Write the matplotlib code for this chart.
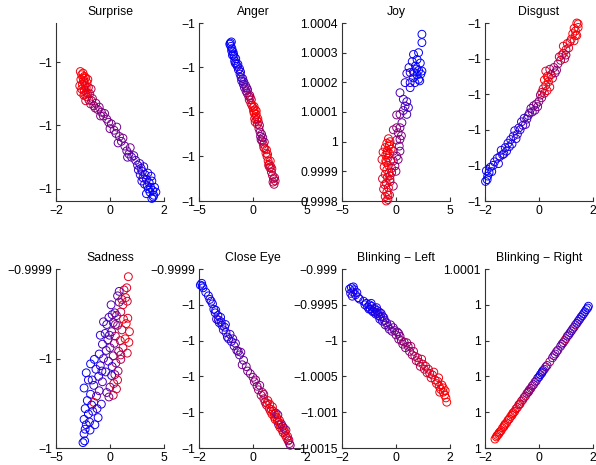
import numpy as np
import matplotlib.pyplot as plt

plt.rcParams['font.family'] = ['Liberation Sans', 'DejaVu Sans']
plt.rcParams['font.size'] = 8.8

# each panel: rows of (x, y offset in 1e-5 units, share of red in the colour)
surprise_pts = np.array([
    (-1.10, 1.70, 0.95), (-1.05, 1.60, 1.0), (-1.00, 1.65, 0.95), (-0.95, 1.55, 1.0),
    (-1.08, 1.45, 1.0), (-0.98, 1.40, 0.95), (-0.90, 1.50, 1.0), (-1.02, 1.30, 1.0),
    (-0.92, 1.25, 0.9), (-0.85, 1.35, 1.0), (-1.05, 1.15, 0.95), (-0.95, 1.10, 1.0),
    (-0.88, 1.05, 0.9), (-0.80, 1.20, 0.85), (-0.97, 0.95, 0.9), (-0.85, 0.90, 0.85),
    (-0.75, 1.00, 0.75), (-0.70, 1.15, 0.7), (-0.90, 0.78, 0.85), (-0.78, 0.80, 0.8),
    (-0.65, 0.85, 0.65), (-0.72, 0.68, 0.7), (-1.12, 1.25, 0.9),
    (-1.00, 1.50, 1.0), (-0.95, 1.35, 0.95), (-0.88, 1.20, 1.0), (-1.08, 1.05, 0.95),
    (-0.82, 1.45, 0.9), (-0.93, 0.98, 1.0), (-0.82, 1.00, 0.9), (-0.68, 0.78, 0.65),
    (-0.60, 0.62, 0.6), (-0.52, 0.70, 0.55), (-0.45, 0.50, 0.55), (-0.40, 0.58, 0.5),
    (-0.32, 0.42, 0.5), (-0.25, 0.30, 0.5), (-0.20, 0.38, 0.45), (-0.12, 0.20, 0.5),
    (-0.05, 0.10, 0.45), (0.05, 0.05, 0.45), (0.15, -0.15, 0.45), (0.22, -0.25, 0.4),
    (0.25, -0.05, 0.45), (0.35, -0.35, 0.45), (0.42, -0.50, 0.4), (0.48, -0.40, 0.5),
    (0.55, -0.65, 0.4), (0.62, -0.80, 0.4), (0.70, -0.90, 0.35), (0.75, -0.70, 0.45),
    (0.80, -1.00, 0.35), (0.88, -0.95, 0.3), (0.95, -1.10, 0.3), (1.02, -1.25, 0.25),
    (-0.55, 0.55, 0.55), (-0.35, 0.30, 0.5), (0.00, -0.10, 0.45), (0.30, -0.55, 0.4),
    (0.65, -1.00, 0.35),
    (1.10, -1.20, 0.2), (1.15, -1.35, 0.15), (1.20, -1.45, 0.1), (1.25, -1.30, 0.15),
    (1.30, -1.55, 0.05), (1.22, -1.65, 0.1), (1.35, -1.70, 0.05), (1.40, -1.50, 0.1),
    (1.45, -1.80, 0.0), (1.38, -1.90, 0.05), (1.50, -1.95, 0.0), (1.55, -1.75, 0.05),
    (1.58, -2.05, 0.0), (1.48, -2.10, 0.0), (1.62, -2.20, 0.0), (1.65, -1.95, 0.0),
    (1.55, -2.30, 0.0), (1.70, -2.10, 0.05), (1.28, -1.85, 0.15), (1.12, -1.55, 0.2),
    (1.05, -1.40, 0.2), (1.18, -1.75, 0.1), (1.42, -2.00, 0.0), (1.52, -1.60, 0.05),
    (1.60, -2.25, 0.0), (1.35, -2.15, 0.0),
])

anger_pts = np.array([
    (-2.10, 3.10, 0.0), (-2.00, 3.15, 0.0), (-2.05, 2.95, 0.05), (-1.95, 2.85, 0.0),
    (-1.85, 2.70, 0.05), (-1.90, 2.55, 0.0), (-1.75, 2.50, 0.05), (-1.70, 2.30, 0.0),
    (-1.60, 2.40, 0.05), (-1.55, 2.15, 0.1), (-1.45, 2.05, 0.05), (-1.35, 1.90, 0.1),
    (-1.25, 1.95, 0.1), (-1.20, 1.70, 0.15), (-1.10, 1.55, 0.15), (-1.05, 1.40, 0.2),
    (-0.95, 1.50, 0.25), (-0.90, 1.25, 0.25), (-0.80, 1.10, 0.3), (-0.70, 1.20, 0.4),
    (-2.15, 3.05, 0.0), (-1.98, 2.75, 0.05), (-1.80, 2.60, 0.0), (-1.65, 2.20, 0.1),
    (-1.40, 2.15, 0.0), (-1.15, 1.80, 0.1), (-0.85, 1.35, 0.3),
    (-0.65, 0.95, 0.45), (-0.55, 0.85, 0.5), (-0.50, 1.00, 0.55), (-0.40, 0.70, 0.6),
    (-0.35, 0.55, 0.7), (-0.25, 0.65, 0.75), (-0.20, 0.40, 0.8), (-0.10, 0.30, 0.85),
    (0.00, 0.20, 0.9), (0.05, 0.05, 0.95), (0.10, -0.05, 1.0), (0.20, 0.10, 0.95),
    (0.25, -0.20, 1.0), (0.30, -0.10, 0.95), (0.35, -0.35, 1.0), (0.15, -0.30, 0.9),
    (-0.60, 1.10, 0.4), (-0.30, 0.75, 0.6), (-0.15, 0.55, 0.8), (0.10, 0.25, 1.0),
    (0.30, 0.05, 1.0), (0.45, -0.30, 0.95), (0.20, -0.45, 0.8),
    (0.40, -0.55, 0.85), (0.50, -0.45, 0.9), (0.55, -0.75, 0.7), (0.65, -0.90, 0.55),
    (0.70, -1.10, 0.5), (0.80, -1.00, 0.6), (0.85, -1.30, 0.6), (0.95, -1.45, 0.75),
    (1.05, -1.35, 0.7), (1.10, -1.65, 0.85), (1.20, -1.85, 0.9), (1.30, -2.00, 0.95),
    (1.35, -1.90, 0.9), (1.40, -2.20, 0.9), (1.50, -2.35, 0.85), (1.55, -2.50, 0.8),
    (1.65, -2.45, 0.85), (1.70, -2.70, 0.75), (1.80, -2.85, 0.7), (1.90, -3.00, 0.75),
    (1.95, -3.25, 0.7), (2.05, -3.10, 0.8), (1.85, -3.15, 0.65),
    (0.60, -0.60, 0.6), (0.75, -1.25, 0.55), (0.90, -1.15, 0.5), (1.00, -1.60, 0.8),
    (1.25, -1.70, 0.95), (1.45, -2.40, 0.8), (1.60, -2.20, 1.0), (1.75, -2.55, 0.8),
    (2.00, -2.95, 0.7),
])

joy_pts = np.array([
    (2.40, 36.2, 0.0), (2.40, 33.4, 0.0), (2.09, 30.0, 0.0), (1.62, 29.4, 0.05),
    (1.95, 27.7, 0.0), (1.50, 27.0, 0.05), (1.80, 25.5, 0.0), (2.25, 26.5, 0.0),
    (2.09, 24.0, 0.05), (1.62, 23.5, 0.05), (1.31, 23.3, 0.1), (1.95, 22.5, 0.0),
    (2.30, 22.8, 0.0), (2.40, 23.8, 0.0), (1.60, 21.5, 0.0), (2.09, 21.0, 0.0),
    (1.00, 23.0, 0.2), (0.84, 19.9, 0.15), (1.31, 19.9, 0.1), (1.75, 19.9, 0.05),
    (1.31, 18.2, 0.1), (2.20, 20.5, 0.0), (1.20, 25.0, 0.1), (1.90, 24.5, 0.0),
    (0.37, 16.5, 0.3), (0.68, 14.3, 0.25), (1.00, 13.5, 0.2), (0.84, 12.0, 0.3),
    (1.15, 11.5, 0.2), (0.68, 10.5, 0.35), (1.00, 9.2, 0.25), (0.37, 9.2, 0.45),
    (0.06, 9.0, 0.5), (0.55, 6.4, 0.4), (0.37, 4.7, 0.45), (0.06, 4.7, 0.55),
    (-0.25, 4.0, 0.6), (0.20, 3.0, 0.5), (0.37, 0.8, 0.45), (0.06, 0.5, 0.55),
    (0.30, -1.5, 0.5), (0.37, -3.2, 0.45), (-0.25, -3.2, 0.6), (0.06, -4.9, 0.55),
    (-0.25, -6.5, 0.6), (-0.10, -8.2, 0.55), (-0.40, -10.4, 0.65), (-0.56, -12.7, 0.7),
    (-0.25, -15.0, 0.6), (0.50, 2.0, 0.5), (0.20, -6.0, 0.5), (0.00, -10.0, 0.6),
    (-0.70, 1.0, 0.9), (-0.55, 0.0, 0.95), (-0.85, -0.5, 1.0), (-0.65, -1.5, 1.0),
    (-1.00, -2.0, 0.95), (-0.45, -2.5, 0.85), (-0.80, -3.0, 1.0), (-1.20, -3.5, 0.9),
    (-0.60, -4.0, 1.0), (-0.95, -4.5, 1.0), (-0.75, -5.5, 0.95), (-1.30, -6.0, 0.9),
    (-0.50, -6.5, 0.85), (-0.90, -7.0, 1.0), (-0.70, -8.0, 0.95), (-1.10, -8.5, 0.9),
    (-0.40, -9.0, 0.8), (-0.85, -9.5, 1.0), (-0.65, -10.5, 0.9), (-1.00, -11.0, 0.95),
    (-0.80, -12.0, 1.0), (-1.25, -12.5, 0.85), (-0.55, -13.5, 0.85), (-0.90, -14.0, 0.95),
    (-0.70, -15.5, 0.9), (-1.15, -16.0, 0.85), (-0.85, -17.0, 0.95), (-0.60, -18.0, 0.8),
    (-1.00, -18.5, 0.9), (-0.75, -19.5, 0.85), (-0.90, -20.0, 0.9),
    (-0.60, -1.0, 1.0), (-0.95, -6.5, 1.0), (-0.55, -11.5, 0.9), (-1.05, -14.5, 0.9),
    (-0.75, -18.0, 1.0), (-0.80, -3.8, 0.95),
])

disgust_pts = np.array([
    (-1.98, -3.9, 0.0), (-1.90, -3.6, 0.0), (-1.95, -3.3, 0.05), (-1.85, -3.4, 0.0),
    (-1.80, -3.1, 0.05), (-1.75, -3.35, 0.0), (-1.65, -2.8, 0.1), (-1.55, -2.6, 0.05),
    (-1.45, -2.5, 0.1), (-1.40, -2.15, 0.1), (-1.30, -2.35, 0.05), (-1.25, -2.0, 0.05),
    (-1.15, -1.75, 0.1), (-1.10, -1.95, 0.05), (-1.05, -1.55, 0.1), (-0.95, -1.35, 0.15),
    (-0.90, -1.05, 0.1), (-0.80, -1.25, 0.2), (-0.75, -0.90, 0.15), (-0.65, -0.55, 0.2),
    (-0.60, -0.75, 0.25), (-0.55, -0.35, 0.2), (-0.45, -0.40, 0.3),
    (-1.92, -3.8, 0.0), (-1.70, -3.0, 0.05), (-1.50, -2.9, 0.1), (-1.35, -2.4, 0.15),
    (-1.20, -2.2, 0.1), (-1.00, -1.8, 0.05), (-0.85, -1.5, 0.15), (-0.70, -1.0, 0.1),
    (-0.50, -0.7, 0.3), (-0.40, -0.2, 0.25),
    (-0.35, -0.05, 0.35), (-0.30, 0.20, 0.4), (-0.20, 0.35, 0.45), (-0.10, 0.45, 0.5),
    (-0.15, 0.10, 0.4), (0.00, 0.60, 0.5), (0.05, 0.95, 0.55), (0.10, 0.80, 0.6),
    (0.20, 1.05, 0.7), (-0.25, 0.00, 0.4), (-0.05, 0.30, 0.5),
    (0.15, 1.30, 0.85), (0.25, 1.50, 0.9), (0.30, 1.20, 0.95), (0.20, 1.80, 1.0),
    (0.35, 1.70, 1.0), (0.40, 1.40, 0.9), (0.30, 2.00, 0.95), (0.45, 2.10, 0.85),
    (0.25, 2.30, 0.9), (0.50, 1.90, 0.8), (0.10, 1.10, 0.8), (0.35, 1.95, 1.0),
    (0.55, 2.50, 0.6), (0.65, 2.35, 0.55), (0.70, 2.70, 0.6), (0.80, 2.90, 0.65),
    (0.75, 3.10, 0.7), (0.40, 2.40, 0.7), (0.60, 2.20, 0.5),
    (0.90, 3.30, 0.85), (0.95, 3.00, 0.8), (1.00, 3.50, 0.9), (0.90, 3.70, 0.95),
    (1.05, 3.85, 0.9), (1.10, 3.60, 0.85), (1.20, 4.10, 0.9), (1.30, 4.00, 0.95),
    (1.25, 4.40, 1.0), (1.35, 4.55, 0.9), (1.40, 4.30, 0.95), (1.45, 4.75, 1.0),
    (1.40, 5.00, 0.9), (0.85, 3.20, 0.9), (1.00, 3.20, 0.6), (1.15, 3.95, 0.9),
    (1.35, 4.30, 1.0), (1.30, 4.70, 0.95), (1.45, 4.95, 1.0),
])

sadness_pts = np.array([
    (1.70, 9.57, 0.9), (1.55, 8.95, 0.85), (1.30, 8.83, 0.8), (0.85, 8.75, 0.3),
    (0.70, 8.50, 0.35), (1.45, 8.40, 0.9), (1.10, 8.30, 0.7), (0.85, 8.15, 0.4),
    (1.60, 8.20, 0.8), (0.10, 8.00, 0.3), (1.20, 8.00, 0.9),
    (0.45, 7.55, 0.3), (0.20, 7.45, 0.2), (-0.10, 7.30, 0.35), (0.60, 7.40, 0.5),
    (1.00, 7.60, 0.8), (1.25, 7.20, 0.9), (1.65, 7.25, 0.85), (1.50, 6.95, 0.95),
    (0.30, 7.00, 0.4), (-0.30, 6.90, 0.2), (-0.60, 7.05, 0.3), (0.70, 6.85, 0.6),
    (1.10, 6.60, 0.75), (1.80, 6.50, 0.9), (0.15, 6.50, 0.45), (-0.45, 6.40, 0.25),
    (-0.90, 6.30, 0.15), (0.50, 6.25, 0.7), (1.40, 6.10, 0.95), (-0.20, 6.05, 0.35),
    (0.95, 6.00, 0.85), (1.75, 5.90, 0.9), (0.40, 5.85, 0.5), (-0.70, 5.80, 0.2),
    (0.50, 6.90, 0.5), (-0.05, 6.30, 0.3),
    (1.20, 5.60, 0.8), (0.00, 5.60, 0.4), (-0.35, 5.45, 0.3), (0.80, 5.40, 0.6),
    (1.60, 5.30, 0.85), (-1.00, 5.25, 0.15), (0.30, 5.15, 0.45), (-0.60, 5.00, 0.25),
    (1.00, 4.95, 0.7), (-1.45, 4.95, 0.05), (-0.15, 4.85, 0.35), (0.55, 4.75, 0.6),
    (-1.80, 4.70, 0.0), (-0.90, 4.60, 0.2), (0.20, 4.55, 0.1), (-1.30, 4.40, 0.1),
    (0.75, 4.30, 0.65), (-0.40, 4.25, 0.3), (-2.20, 4.20, 0.0), (0.15, 4.05, 0.1),
    (-1.05, 4.00, 0.15), (1.00, 5.20, 0.75), (-0.75, 4.30, 0.15), (0.45, 4.10, 0.5),
    (-2.00, 3.80, 0.1), (0.70, 3.80, 0.85), (-0.70, 3.70, 0.3), (0.35, 3.60, 0.75),
    (-1.50, 3.50, 0.2), (0.00, 3.40, 0.4), (-2.40, 3.35, 0.0), (0.60, 3.30, 0.8),
    (-1.00, 3.20, 0.3), (-0.30, 3.10, 0.35), (-1.80, 3.00, 0.05), (-1.25, 2.90, 0.4),
    (-0.10, 2.85, 0.45), (-2.10, 2.65, 0.0), (-1.50, 2.55, 0.9), (-0.80, 2.45, 0.15),
    (-1.65, 3.80, 0.1), (0.30, 2.95, 0.8), (-1.70, 2.40, 0.05),
    (-2.30, 2.20, 0.0), (-1.20, 2.20, 0.1), (-1.60, 2.05, 0.2), (-2.00, 1.90, 0.0),
    (-1.10, 1.70, 0.05), (-2.40, 1.60, 0.0), (-1.90, 1.45, 0.1), (-1.40, 1.30, 0.05),
    (-2.30, 1.05, 0.0), (-1.85, 1.00, 0.05), (-2.40, 0.80, 0.1), (-2.35, 0.40, 0.0),
    (-2.50, 0.30, 0.0), (-2.20, 1.30, 0.05),
])

close_eye_pts = np.array([
    (-1.95, 9.10, 0.0), (-1.90, 9.20, 0.05), (-1.85, 8.95, 0.0), (-1.75, 8.70, 0.05),
    (-1.65, 8.50, 0.0), (-1.60, 8.30, 0.1), (-1.50, 8.05, 0.05), (-1.45, 7.75, 0.0),
    (-1.40, 7.55, 0.05), (-1.30, 7.40, 0.1), (-1.35, 7.20, 0.15), (-1.25, 7.00, 0.05),
    (-1.20, 7.30, 0.0), (-1.15, 6.85, 0.1), (-1.10, 6.60, 0.3), (-1.05, 6.75, 0.05),
    (-1.00, 6.45, 0.15), (-0.95, 6.20, 0.1), (-0.85, 6.35, 0.2), (-0.80, 5.95, 0.1),
    (-0.75, 6.10, 0.3), (-0.70, 5.70, 0.25), (-0.55, 5.40, 0.3), (-0.50, 5.20, 0.35),
    (-1.88, 9.05, 0.0), (-1.55, 8.20, 0.1), (-1.38, 7.70, 0.05), (-1.28, 7.15, 0.2),
    (-1.18, 7.05, 0.1), (-1.02, 6.90, 0.1), (-0.90, 6.10, 0.2), (-0.65, 5.85, 0.3),
    (-0.60, 5.45, 0.4), (-0.40, 4.65, 0.45),
    (-0.45, 5.35, 0.4), (-0.35, 4.90, 0.35), (-0.25, 4.55, 0.45), (-0.20, 4.30, 0.5),
    (-0.10, 4.15, 0.45), (0.00, 3.95, 0.5), (0.05, 3.70, 0.55), (0.15, 3.45, 0.5),
    (0.20, 3.25, 0.6), (0.25, 3.50, 0.5), (0.30, 2.95, 0.65), (0.35, 3.10, 0.55),
    (0.10, 3.80, 0.55), (0.40, 3.00, 0.7),
    (0.40, 2.75, 0.7), (0.45, 2.55, 0.8), (0.50, 2.40, 0.75), (0.55, 2.65, 0.85),
    (0.60, 2.20, 0.9), (0.65, 2.05, 0.85), (0.70, 1.90, 0.95), (0.72, 2.30, 0.9),
    (0.78, 1.75, 1.0), (0.82, 1.60, 0.9), (0.85, 1.95, 0.4), (0.90, 1.50, 0.95),
    (0.95, 1.30, 0.3), (0.98, 1.55, 0.9), (1.00, 1.15, 1.0), (1.05, 1.35, 0.5),
    (1.08, 1.00, 0.95), (1.12, 0.85, 0.9), (1.15, 1.10, 0.6), (1.20, 0.70, 0.85),
    (1.25, 0.55, 0.9), (1.30, 0.40, 0.8), (1.35, 0.25, 0.6), (1.38, 0.15, 0.5),
    (0.52, 2.50, 0.9), (0.62, 2.45, 0.95), (0.68, 2.15, 1.0), (0.75, 2.05, 0.9),
    (0.80, 1.90, 1.0), (0.88, 1.70, 0.95), (0.92, 1.85, 0.45), (0.95, 1.45, 1.0),
    (1.02, 1.30, 0.95), (1.10, 1.20, 0.5), (1.18, 0.90, 0.95), (1.22, 1.00, 0.6),
    (1.28, 0.65, 0.9), (1.33, 0.45, 0.7),
])

blink_left_pts = np.array([
    (-1.72, 72.0, 0.05), (-1.65, 74.0, 0.0), (-1.60, 68.0, 0.1), (-1.55, 71.0, 0.0),
    (-1.50, 64.0, 0.05), (-1.45, 67.0, 0.1), (-1.62, 62.0, 0.15), (-1.40, 60.0, 0.05),
    (-1.68, 66.0, 0.1), (-1.58, 75.0, 0.05), (-1.35, 58.0, 0.1),
    (-1.20, 55.0, 0.1), (-1.10, 52.0, 0.0), (-1.05, 47.0, 0.1), (-0.98, 50.0, 0.05),
    (-0.95, 44.0, 0.15), (-0.90, 48.0, 0.0), (-0.85, 40.0, 0.1), (-0.80, 45.0, 0.05),
    (-0.75, 37.0, 0.2), (-0.70, 42.0, 0.0), (-0.65, 35.0, 0.1), (-0.60, 30.0, 0.15),
    (-0.55, 38.0, 0.05), (-0.50, 27.0, 0.2), (-0.45, 32.0, 0.25), (-0.40, 22.0, 0.3),
    (-1.15, 50.0, 0.05), (-1.00, 44.0, 0.0), (-0.92, 52.0, 0.1), (-0.88, 42.0, 0.05),
    (-0.78, 40.0, 0.1), (-0.72, 46.0, 0.15), (-0.68, 38.0, 0.05), (-0.62, 40.0, 0.2),
    (-0.58, 33.0, 0.1), (-0.50, 34.0, 0.15), (-0.42, 28.0, 0.2), (-0.35, 25.0, 0.3),
    (-0.30, 20.0, 0.35), (-0.25, 16.0, 0.3), (-0.15, 13.0, 0.4), (-0.10, 18.0, 0.35),
    (0.00, 8.0, 0.45), (0.05, 12.0, 0.4), (0.10, 2.0, 0.5), (0.20, 0.0, 0.55),
    (0.25, -5.0, 0.5), (0.35, -10.0, 0.55), (0.40, -3.0, 0.6), (0.50, -15.0, 0.5),
    (0.55, -8.0, 0.65), (0.60, -20.0, 0.6), (0.70, -22.0, 0.7), (0.75, -28.0, 0.65),
    (-0.20, 22.0, 0.4), (-0.05, 14.0, 0.45), (0.10, 10.0, 0.5), (0.15, 6.0, 0.45),
    (0.30, -2.0, 0.6), (0.45, -8.0, 0.55), (0.65, -15.0, 0.65),
    (0.85, -30.0, 0.75), (0.90, -36.0, 0.7), (1.00, -33.0, 0.8), (1.05, -40.0, 0.75),
    (1.15, -45.0, 0.85), (1.25, -46.0, 0.8), (1.30, -52.0, 0.9), (1.35, -48.0, 0.85),
    (1.45, -55.0, 0.9), (1.50, -60.0, 0.95), (1.55, -57.0, 0.9), (1.60, -64.0, 1.0),
    (1.65, -68.0, 0.95), (1.70, -62.0, 0.9), (1.75, -72.0, 1.0), (1.80, -76.0, 0.95),
    (1.85, -80.0, 1.0), (1.88, -86.0, 1.0),
    (0.80, -24.0, 0.7), (0.95, -26.0, 0.8), (1.10, -36.0, 0.85), (1.20, -40.0, 0.8),
    (1.40, -44.0, 0.9), (1.58, -52.0, 0.95), (1.75, -66.0, 1.0), (1.62, -72.0, 0.95),
    (1.82, -70.0, 1.0),
])

blink_right_pts = np.array([
    (-1.63, 0.50, 1.0), (-1.58, 0.62, 1.0), (-1.55, 0.70, 0.95), (-1.50, 0.76, 1.0),
    (-1.45, 0.90, 1.0), (-1.40, 0.97, 0.9), (-1.35, 1.12, 1.0), (-1.30, 1.19, 1.0),
    (-1.25, 1.34, 0.95), (-1.20, 1.40, 1.0), (-1.15, 1.55, 1.0), (-1.10, 1.62, 0.9),
    (-1.05, 1.76, 1.0), (-1.00, 1.83, 0.95), (-0.95, 1.98, 1.0), (-0.90, 2.04, 0.9),
    (-0.85, 2.19, 0.85), (-0.80, 2.26, 0.9), (-0.75, 2.41, 0.8), (-0.70, 2.47, 0.85),
    (-0.65, 2.62, 0.75), (-0.60, 2.69, 0.8), (-0.55, 2.83, 0.6), (-0.50, 2.90, 0.7),
    (-0.45, 3.05, 0.55), (-0.40, 3.11, 0.6), (-0.35, 3.26, 0.5), (-0.30, 3.33, 0.55),
    (-0.25, 3.47, 0.5), (-0.20, 3.54, 0.45), (-0.15, 3.68, 0.5), (-0.10, 3.75, 0.4),
    (-0.05, 3.90, 0.3), (0.00, 3.97, 0.1), (0.05, 4.10, 0.05), (0.10, 4.18, 0.1),
    (0.15, 4.33, 0.3), (0.20, 4.40, 0.4), (0.25, 4.53, 0.45), (0.30, 4.61, 0.4),
    (0.40, 4.82, 0.7), (0.50, 5.04, 0.4), (0.60, 5.25, 0.35), (0.65, 5.38, 0.4),
    (0.70, 5.47, 0.45), (0.80, 5.68, 0.4), (0.90, 5.89, 0.35), (0.95, 6.00, 0.6),
    (1.00, 6.11, 0.75), (1.05, 6.25, 0.4), (1.10, 6.32, 0.3), (1.20, 6.54, 0.25),
    (1.25, 6.66, 0.35), (1.30, 6.75, 0.3), (1.35, 6.88, 0.6), (1.40, 6.96, 0.2),
    (1.50, 7.18, 0.15), (1.55, 7.30, 0.1), (1.60, 7.39, 0.15), (1.70, 7.61, 0.05),
    (1.80, 7.82, 0.0), (1.83, 7.92, 0.05),
    (-1.48, 0.84, 1.0), (-1.28, 1.27, 0.95), (-0.98, 1.91, 1.0), (-0.72, 2.45, 0.85),
    (-0.38, 3.17, 0.55), (0.12, 4.25, 0.05), (0.55, 5.16, 0.4), (0.85, 5.80, 0.35),
    (1.15, 6.44, 0.3), (1.45, 7.08, 0.15), (1.65, 7.50, 0.1), (1.75, 7.73, 0.05),
])

titles = ['Surprise', 'Anger', 'Joy', 'Disgust',
          'Sadness', 'Close Eye', 'Blinking \u2212 Left', 'Blinking \u2212 Right']
x_limits = [(-2, 2), (-5, 5), (-5, 5), (-2, 2), (-5, 5), (-2, 2), (-2, 2), (-2, 2)]
x_ticks = [[-2, 0, 2], [-5, 0, 5], [-5, 0, 5], [-2, 0, 2],
           [-5, 0, 5], [-2, 0, 2], [-2, 0, 2], [-2, 0, 2]]
y_limits = [(-2.38, 3.23), (-4, 4), (-20, 40), (-5, 5),
            (0, 10), (0, 10), (-150, 100), (0, 10)]
y_ticks = [[-2, 0, 2], [-4, -2, 0, 2, 4], [-20, -10, 0, 10, 20, 30, 40],
           [-5, -3, -1, 1, 3, 5], [0, 5, 10], [0, 2, 4, 6, 8, 10],
           [-150, -100, -50, 0, 50, 100], [0, 2, 4, 6, 8, 10]]
m1 = '\u22121'
y_labels = [[m1] * 3, [m1] * 5,
            ['0.9998', '0.9999', '1', '1.0001', '1.0002', '1.0003', '1.0004'],
            [m1] * 6, [m1, m1, '\u22120.9999'], [m1] * 5 + ['\u22120.9999'],
            ['\u22121.0015', '\u22121.001', '\u22121.0005', m1, '\u22120.9995', '\u22120.999'],
            ['1'] * 5 + ['1.0001']]

all_pts = [surprise_pts, anger_pts, joy_pts, disgust_pts,
           sadness_pts, close_eye_pts, blink_left_pts, blink_right_pts]

W, H = 596, 465
lefts = [56, 199, 342, 485]
rows = [(23, 201), (269, 448)]

fig = plt.figure(figsize=(W / 100, H / 100), dpi=100)

for i, pts in enumerate(all_pts):
    r, c = divmod(i, 4)
    top, bot = rows[r]
    ax = fig.add_axes([lefts[c] / W, 1 - bot / H, 108 / W, (bot - top) / H])
    x, y, red = pts[:, 0], pts[:, 1], pts[:, 2]
    colors = np.column_stack([red, np.zeros_like(red), 1 - red])
    ax.scatter(x, y, s=32, facecolors='none', edgecolors=colors,
               linewidths=0.7, clip_on=False, zorder=3)
    ax.set_xlim(*x_limits[i])
    ax.set_ylim(*y_limits[i])
    ax.set_xticks(x_ticks[i])
    ax.set_yticks(y_ticks[i])
    ax.set_yticklabels(y_labels[i])
    ax.set_title(titles[i], fontsize=8.8, pad=6)
    for side in ['top', 'right']:
        ax.spines[side].set_visible(False)
    for side in ['left', 'bottom']:
        ax.spines[side].set_linewidth(0.8)
        ax.spines[side].set_color('#333333')
    ax.tick_params(direction='in', length=3, width=0.8, pad=3, labelsize=8.8,
                   color='#333333')
    ax.patch.set_alpha(0)

fig.savefig('out.png', dpi=100)
